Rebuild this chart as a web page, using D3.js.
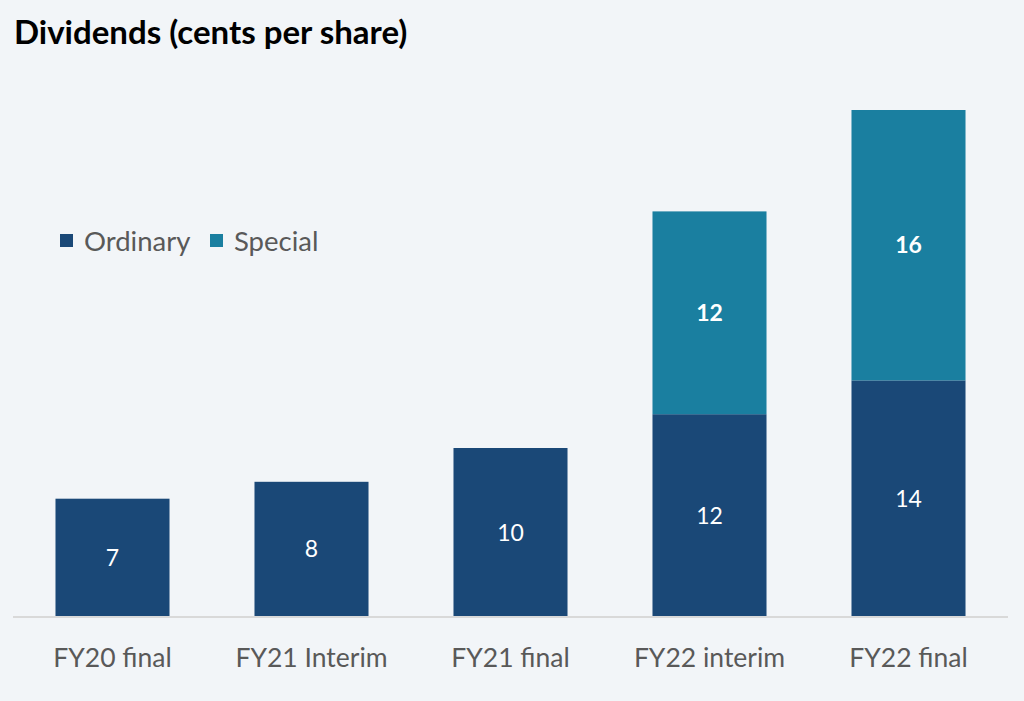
<!DOCTYPE html>
<html><head><meta charset="utf-8">
<script src="https://cdn.jsdelivr.net/npm/d3@7"></script>
<style>
html,body{margin:0;padding:0;background:#f2f5f8;}
svg{display:block;font-family:Lato, "Open Sans", sans-serif;}
</style></head>
<body>
<svg id="c" width="1024" height="701"></svg>
<script>
const categories = ["FY20 final","FY21 Interim","FY21 final","FY22 interim","FY22 final"];
const ordinary = [7,8,10,12,14];
const special = [0,0,0,12,16];
const seriesNames = ["Ordinary","Special"];
const colors = ["#1a4877","#1a7fa0"];

const svg = d3.select("#c");
svg.append("rect").attr("width",1024).attr("height",701).attr("fill","#f2f5f8");

const x = d3.scaleBand().domain(categories).range([13,1008]).paddingInner(0.427).paddingOuter(0.2135);
const y = d3.scaleLinear().domain([0,30]).range([617,110]);

const rows = categories.map((c,i)=>({cat:c, Ordinary:ordinary[i], Special:special[i]}));
const stack = d3.stack().keys(seriesNames)(rows);

const g = svg.append("g");
stack.forEach((s,si)=>{
  g.selectAll(null).data(s.filter(d=>d[1]-d[0]>0)).enter().append("rect")
    .attr("x",d=>x(d.data.cat)).attr("width",x.bandwidth())
    .attr("y",d=>y(d[1])).attr("height",d=>y(d[0])-y(d[1]))
    .attr("fill",colors[si]);
  g.selectAll(null).data(s.filter(d=>d[1]-d[0]>0)).enter().append("text")
    .attr("x",d=>x(d.data.cat)+x.bandwidth()/2)
    .attr("y",d=>(y(d[0])+y(d[1]))/2)
    .attr("dy","0.35em").attr("text-anchor","middle")
    .attr("fill","#ffffff").attr("font-size",23)
    .attr("font-weight",si===1?"bold":"normal")
    .text(d=>d[1]-d[0]);
});

// axis
const ax = svg.append("g").attr("transform","translate(0,617)")
  .call(d3.axisBottom(x).tickSize(0).tickPadding(31));
ax.select(".domain").attr("stroke","#d9d9d9").attr("stroke-width",2).attr("d","M13,0H1008");
ax.selectAll("text").attr("font-size",26.5).attr("fill","#595959").attr("font-family","Lato, sans-serif");

// title
svg.append("text").attr("x",14).attr("y",44).attr("font-size",33).attr("font-weight","bold")
  .attr("fill","#000").text("Dividends (cents per share)");

// legend
const leg = svg.append("g");
const legX = [60,210];
seriesNames.forEach((n,i)=>{
  leg.append("rect").attr("x",legX[i]).attr("y",234).attr("width",13).attr("height",13).attr("fill",colors[i]);
  leg.append("text").attr("x",legX[i]+24).attr("y",241).attr("dy","0.35em").attr("font-size",27.5)
    .attr("fill","#595959").text(n);
});
</script>
</body></html>
